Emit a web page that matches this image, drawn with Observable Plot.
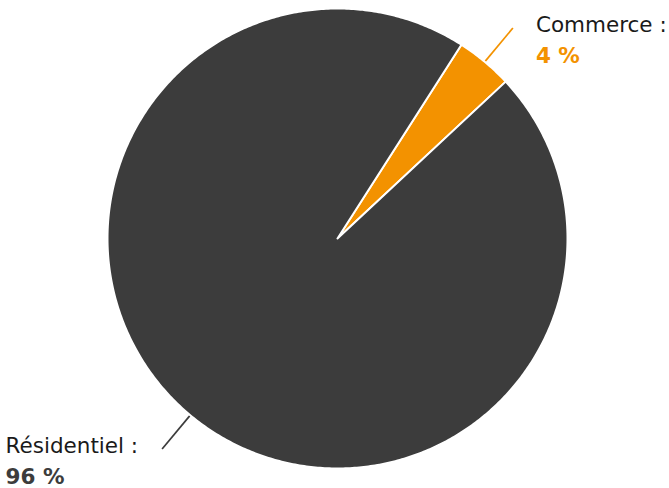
<!DOCTYPE html>
<html>
<head>
<meta charset="utf-8">
<script src="https://cdn.jsdelivr.net/npm/d3@7"></script>
<script src="https://cdn.jsdelivr.net/npm/@observablehq/plot@0.6"></script>
<style>
  html, body { margin: 0; padding: 0; background: #fff; }
  #chart svg { display: block; }
</style>
</head>
<body>
<div id="chart"></div>
<script>
// ---- data ----
const categories = ["Commerce", "Résidentiel"];
const shares = [4, 96];
const labels = ["Commerce :", "Résidentiel :"];
const valueLabels = ["4 %", "96 %"];
const colors = ["#f39200", "#3c3c3c"];

// ---- layout ----
const W = 669, H = 488;
const cx = 337, cy = 238, R = 230;
const start = 32.6 * Math.PI / 180;
const font = "DejaVu Sans";
const fs = 21.5;

const arcs = d3.pie().sort(null).startAngle(start).endAngle(start + 2 * Math.PI)(shares);

const pt = (a, r) => ({ x: cx + r * Math.sin(a), y: cy - r * Math.cos(a) });

const polys = [];
arcs.forEach((a, i) => {
  polys.push({ key: categories[i], color: colors[i], ...pt(0, 0) });
  const n = Math.max(4, Math.ceil((a.endAngle - a.startAngle) / 0.01));
  for (let k = 0; k <= n; k++) {
    const t = a.startAngle + (a.endAngle - a.startAngle) * k / n;
    polys.push({ key: categories[i], color: colors[i], ...pt(t, R) });
  }
});

const ctx = document.createElement("canvas").getContext("2d");
ctx.font = `${fs}px "${font}"`;

const leaders = [], texts = [];
arcs.forEach((a, i) => {
  const m = (a.startAngle + a.endAngle) / 2;
  const p1 = pt(m, R - 2), p2 = pt(m, R + 44);
  leaders.push({ x1: p1.x, y1: p1.y, x2: p2.x, y2: p2.y, color: colors[i] });
  const right = Math.sin(m) >= 0;
  const w = ctx.measureText(labels[i]).width;
  const x = right ? p2.x + 23 : p2.x - 24 - w;
  texts.push({ x, y: p2.y + 4, text: labels[i], color: "#1a1a1a", weight: "normal" });
  texts.push({ x, y: p2.y + 35, text: valueLabels[i], color: colors[i], weight: "bold" });
});

const chart = Plot.plot({
  width: W, height: H,
  margin: 0,
  x: { domain: [0, W], range: [0, W], axis: null },
  y: { domain: [0, H], range: [0, H], axis: null },
  color: { type: "identity" },
  style: { fontFamily: font, background: "#fff" },
  marks: [
    Plot.link(leaders, { x1: "x1", y1: "y1", x2: "x2", y2: "y2", stroke: "color", strokeWidth: 1.7 }),
    Plot.line(polys, { x: "x", y: "y", z: "key", fill: "color", stroke: "#ffffff", strokeWidth: 2, curve: "linear-closed", strokeLinejoin: "round" }),
    Plot.text(texts.filter(d => d.weight === "normal"), { x: "x", y: "y", text: "text", fill: "color", textAnchor: "start", lineAnchor: "bottom", fontSize: fs }),
    Plot.text(texts.filter(d => d.weight === "bold"), { x: "x", y: "y", text: "text", fill: "color", textAnchor: "start", lineAnchor: "bottom", fontSize: fs, fontWeight: "bold" })
  ]
});
document.getElementById("chart").appendChild(chart);
</script>
</body>
</html>
